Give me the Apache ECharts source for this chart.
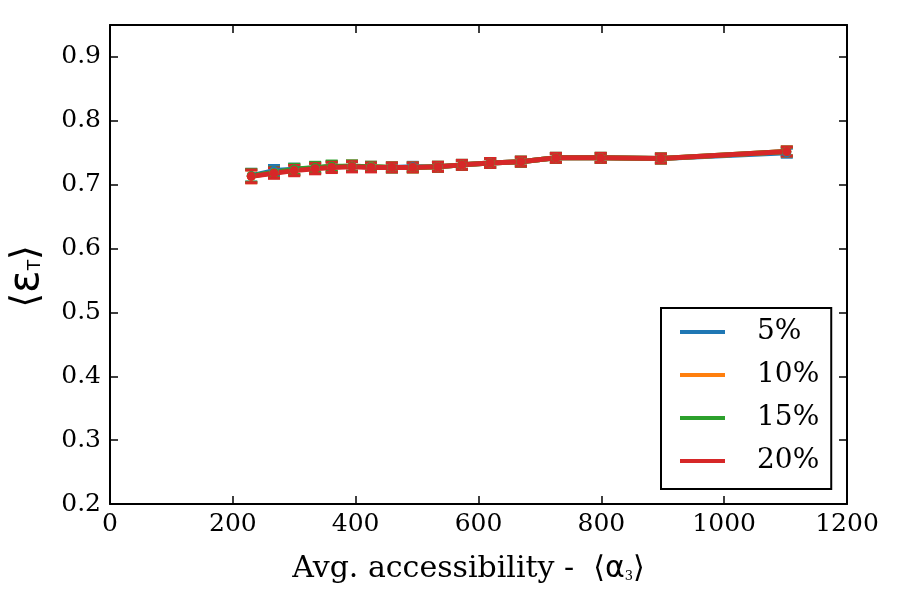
<!DOCTYPE html>
<html>
<head>
<meta charset="utf-8">
<script src="https://cdn.jsdelivr.net/npm/echarts@6/dist/echarts.min.js"></script>
<style>
  html, body { margin: 0; padding: 0; background: #fff; }
  #chart { width: 900px; height: 600px; }
</style>
</head>
<body>
<div id="chart"></div>
<script>
// accessibility on x, efficiency on y
const xVals = [230, 267, 300, 334, 361, 394, 425, 459, 493, 534, 573, 619, 669, 726, 799, 897, 1102];
const names = ['5%', '10%', '15%', '20%'];
const colors = ['#1f77b4', '#ff7f0e', '#2ca02c', '#d62728'];

const eff5  = [0.714, 0.722, 0.724, 0.726, 0.728, 0.729, 0.728, 0.727, 0.728, 0.728, 0.731, 0.734, 0.736, 0.742, 0.742, 0.741, 0.750];
const eff10 = [0.713, 0.719, 0.723, 0.726, 0.728, 0.729, 0.728, 0.727, 0.727, 0.728, 0.731, 0.734, 0.736, 0.742, 0.742, 0.741, 0.752];
const eff15 = [0.714, 0.719, 0.724, 0.727, 0.729, 0.729, 0.728, 0.727, 0.727, 0.728, 0.731, 0.734, 0.736, 0.742, 0.742, 0.741, 0.752];
const eff20 = [0.713, 0.718, 0.722, 0.725, 0.727, 0.728, 0.727, 0.727, 0.727, 0.728, 0.731, 0.734, 0.736, 0.742, 0.742, 0.741, 0.752];
const errs  = [0.010, 0.008, 0.008, 0.008, 0.008, 0.008, 0.007, 0.007, 0.007, 0.007, 0.007, 0.007, 0.007, 0.007, 0.007, 0.007, 0.007];
const allEff = [eff5, eff10, eff15, eff20];

const serif = '"DejaVu Serif", "Liberation Serif", serif';
const sans = '"DejaVu Sans", sans-serif';

const chart = echarts.init(document.getElementById('chart'));

function errSeries(i) {
  return {
    name: names[i],
    type: 'custom',
    data: xVals.map((x, k) => [x, allEff[i][k] - errs[k], allEff[i][k] + errs[k]]),
    renderItem: function (params, api) {
      const lo = api.coord([api.value(0), api.value(1)]);
      const hi = api.coord([api.value(0), api.value(2)]);
      const c = colors[i];
      const hw = 6;
      return {
        type: 'group',
        children: [
          { type: 'line', shape: { x1: lo[0], y1: lo[1], x2: hi[0], y2: hi[1] }, style: { stroke: c, lineWidth: 2 } },
          { type: 'line', shape: { x1: lo[0] - hw, y1: lo[1], x2: lo[0] + hw, y2: lo[1] }, style: { stroke: c, lineWidth: 3 } },
          { type: 'line', shape: { x1: hi[0] - hw, y1: hi[1], x2: hi[0] + hw, y2: hi[1] }, style: { stroke: c, lineWidth: 3 } }
        ]
      };
    },
    silent: true
  };
}

function lineSeries(i) {
  return {
    name: names[i],
    type: 'line',
    data: xVals.map((x, k) => [x, allEff[i][k]]),
    symbol: 'circle',
    symbolSize: 9,
    showSymbol: true,
    itemStyle: { color: colors[i] },
    lineStyle: { color: colors[i], width: 5 },
    animation: false
  };
}

const series = [];
for (let i = 0; i < 4; i++) {
  series.push(errSeries(i));
  series.push(lineSeries(i));
}

const tickStyle = { show: true, inside: true, length: 8, lineStyle: { color: '#000', width: 1.5 } };

const option = {
  animation: false,
  grid: { left: 110, right: 53, top: 25, bottom: 96, show: false, containLabel: false, outerBoundsMode: 'none' },
  xAxis: [
    {
      type: 'value', min: 0, max: 1200, interval: 200,
      axisLine: { show: true, lineStyle: { color: '#000', width: 2 } },
      axisTick: tickStyle,
      splitLine: { show: false },
      axisLabel: { color: '#000', fontFamily: serif, fontSize: 25, margin: 8, formatter: v => String(v) },
      name: '{t|Avg. accessibility -  ⟨}{g|α}{s|3}{t|⟩}',
      nameLocation: 'middle',
      nameGap: 50,
      nameTextStyle: {
        padding: [0, 20, 0, 0],
        rich: {
          t: { fontFamily: serif, fontSize: 30, color: '#000' },
          g: { fontFamily: sans, fontSize: 30, color: '#000' },
          s: { fontFamily: serif, fontSize: 13, color: '#000', padding: [16, 0, 0, 0] }
        }
      }
    },
    {
      type: 'value', min: 0, max: 1200, interval: 200, position: 'top',
      axisLine: { show: true, onZero: false, lineStyle: { color: '#000', width: 2 } },
      axisTick: tickStyle,
      axisLabel: { show: false },
      splitLine: { show: false }
    }
  ],
  yAxis: [
    {
      type: 'value', min: 0.2, max: 0.95, interval: 0.1,
      axisLine: { show: true, lineStyle: { color: '#000', width: 2 } },
      axisTick: tickStyle,
      splitLine: { show: false },
      axisLabel: {
        color: '#000', fontFamily: serif, fontSize: 25, margin: 9, showMaxLabel: false,
        formatter: v => v.toFixed(1)
      },
      name: '{b|⟨}{g|ε}{s|T}{b|⟩}',
      nameLocation: 'middle',
      nameGap: 62,
      nameRotate: 90,
      nameTextStyle: {
        padding: [0, 24, 0, 0],
        rich: {
          b: { fontFamily: sans, fontSize: 38, color: '#000' },
          g: { fontFamily: sans, fontSize: 42, color: '#000' },
          s: { fontFamily: sans, fontSize: 17, color: '#000', padding: [18, 0, 0, 0] }
        }
      }
    },
    {
      type: 'value', min: 0.2, max: 0.95, interval: 0.1, position: 'right',
      axisLine: { show: true, onZero: false, lineStyle: { color: '#000', width: 2 } },
      axisTick: tickStyle,
      axisLabel: { show: false },
      splitLine: { show: false }
    }
  ],
  legend: {
    left: 661,
    top: 308,
    orient: 'vertical',
    data: names.map((n, i) => ({ name: n, icon: 'rect', itemStyle: { color: colors[i] } })),
    itemWidth: 45,
    itemHeight: 4,
    itemGap: 15,
    borderColor: '#000',
    borderWidth: 2,
    borderRadius: 0,
    padding: [10, 12, 14, 19],
    backgroundColor: '#fff',
    textStyle: { fontFamily: serif, fontSize: 28, color: '#000', padding: [0, 0, 0, 27], lineHeight: 28 }
  },
  series: series
};

chart.setOption(option);
</script>
</body>
</html>
